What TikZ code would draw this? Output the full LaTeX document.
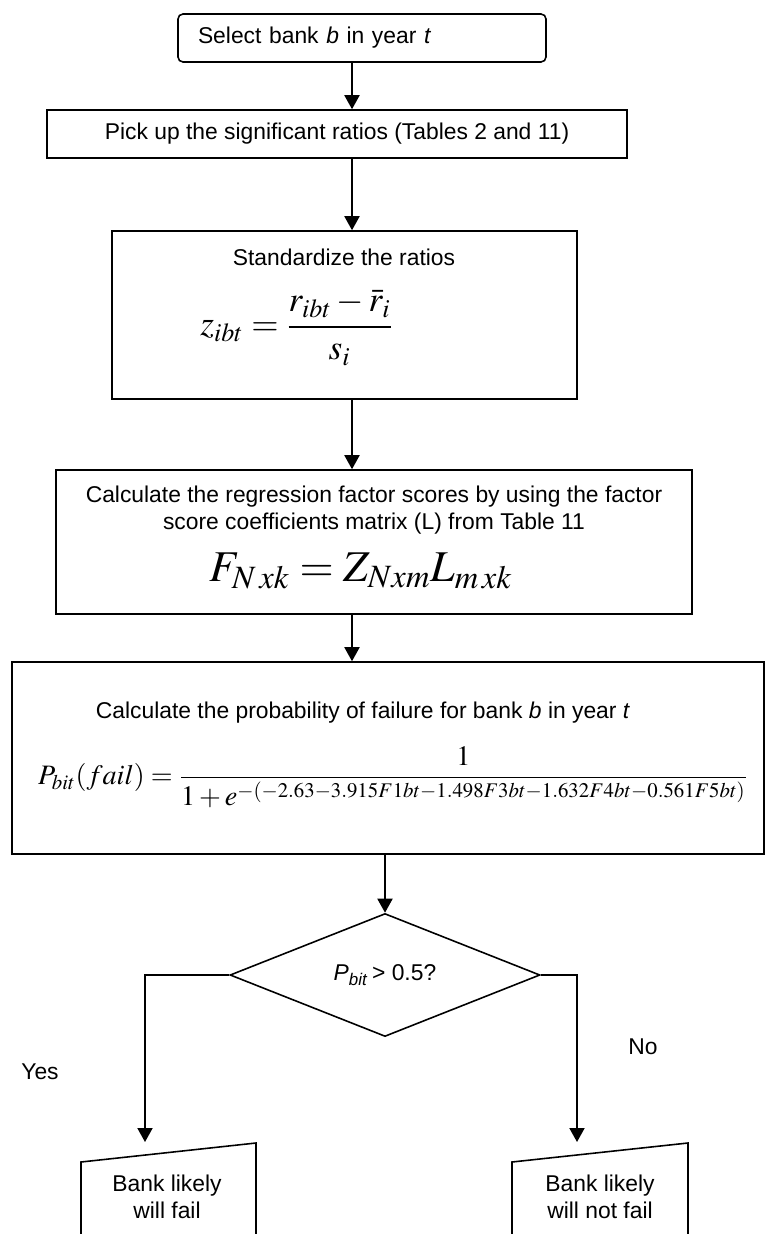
\documentclass[tikz,border=0pt]{standalone}
\usepackage{amsmath}
\usepackage{mathptmx}
\usepackage[no-math]{fontspec}
\setmainfont{Liberation Sans}
\usetikzlibrary{positioning,arrows.meta,shapes.geometric,calc}

\begin{document}
\begin{tikzpicture}[>={Triangle[length=2.8mm,width=3mm]},
  every node/.style={font=\fontsize{13}{15.5}\selectfont},
  box/.style={draw, line width=0.9pt, rectangle, inner sep=0pt},
  flow/.style={->, line width=1.1pt},
  outline/.style={line width=0.9pt}]
  \useasboundingbox (0,0) rectangle (15.3,-24.68);
  \node[box, rounded corners=1mm, minimum width=7.36cm, minimum height=0.96cm, text width=6.56cm, align=left, inner xsep=4mm] (select) at (7.24,-0.76) {Select bank \textit{b} in year \textit{t}};
  \node[box, minimum width=11.6cm, minimum height=0.96cm] (pick) at (6.74,-2.68) {Pick up the significant ratios (Tables 2 and 11)};
  \node[box, minimum width=9.3cm, minimum height=3.36cm] (stand) at (6.89,-6.3) {};
  \node (standtxt) at (6.88,-5.14) {Standardize the ratios};
  \node[font=\fontsize{20}{24}\selectfont] (standeq) at (5.93,-6.56) {$z_{ibt} = \dfrac{r_{ibt} - \bar{r}_i}{s_i}$};
  \node[box, minimum width=12.72cm, minimum height=2.88cm] (calc) at (7.48,-10.84) {};
  \node[align=center] (calctxt) at (7.48,-10.2) {Calculate the regression factor scores by using the factor\\score coefficients matrix (L) from Table 11};
  \node[font=\fontsize{25}{28}\selectfont] (calceq) at (7.22,-11.42) {$F_{N\,xk} = Z_{Nxm}L_{m\,xk}$};
  \node[box, minimum width=15.04cm, minimum height=3.84cm] (prob) at (7.76,-15.16) {};
  \node (probtxt) at (7.26,-14.26) {Calculate the probability of failure for bank \textit{b} in year \textit{t}};
  \node[font=\fontsize{16}{19}\selectfont] (probeq) at (7.86,-15.55) {$P_{bit}(fail) = \dfrac{1}{1+e^{-(-2.63-3.915F1bt-1.498F3bt-1.632F4bt-0.561F5bt)}}$};
  \node[draw, diamond, line width=0.9pt, minimum width=6.2cm, minimum height=1.92cm, inner sep=0pt] (test) at (7.7,-19.5) {\textit{P}\textsubscript{\textit{bit}}\,> 0.5?};
  \node (yes) at (0.8,-21.44) {Yes};
  \node (no) at (12.86,-20.94) {No};
  \node[align=center] (fail) at (3.34,-23.93) {Bank likely\\will fail};
  \node[align=center] (nofail) at (12.0,-23.93) {Bank likely\\will not fail};
  \draw[outline] (1.62,-24.68) -- (1.62,-23.24) -- (5.12,-22.86) -- (5.12,-24.68);
  \draw[outline] (10.24,-24.68) -- (10.24,-23.24) -- (13.76,-22.86) -- (13.76,-24.68);
  \coordinate (spine) at (7.04,0);
  \coordinate (failin) at (2.9,-22.84);
  \coordinate (nofailin) at (11.54,-22.84);
  \draw[flow] (select.south -| spine) -- (pick.north -| spine);
  \draw[flow] (pick.south -| spine) -- (stand.north -| spine);
  \draw[flow] (stand.south -| spine) -- (calc.north -| spine);
  \draw[flow] (calc.south -| spine) -- (prob.north -| spine);
  \draw[flow] (prob.south -| test.north) -- (test.north);
  \draw[flow] (test.west) -| (failin);
  \draw[flow] (test.east) -| (nofailin);
\end{tikzpicture}
\end{document}
